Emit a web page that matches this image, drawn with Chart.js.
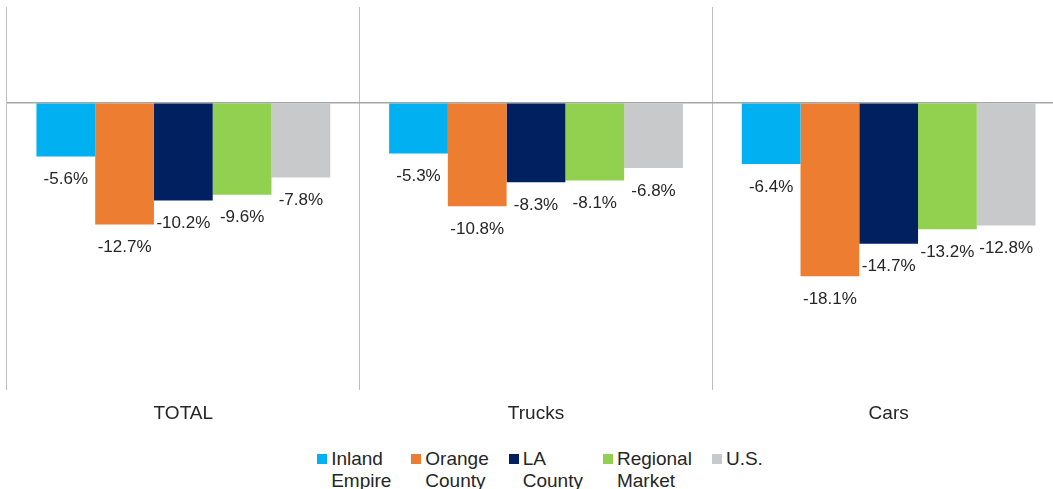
<!DOCTYPE html>
<html>
<head>
<meta charset="utf-8">
<script src="https://cdn.jsdelivr.net/npm/chart.js@4/dist/chart.umd.min.js"></script>
<style>
  html, body { margin: 0; padding: 0; background: #fff; overflow: hidden; width: 1053px; height: 489px; }
  #wrap { position: absolute; left: 0; top: 0; width: 1072px; height: 437px; }
  #legend { position: absolute; top: 448px; left: 0; width: 1080px; display: flex; justify-content: center;
    font-family: "Liberation Sans", Arial, sans-serif; font-size: 19px; color: #262626; line-height: 22px; }
  .item { display: flex; align-items: flex-start; margin: 0 10px; }
  .box { width: 10px; height: 10px; margin: 6px 4px 0 0; flex: none; }
</style>
</head>
<body>
<div id="wrap"><canvas id="chart"></canvas></div>
<div id="legend"></div>
<script>
const categories = ['TOTAL', 'Trucks', 'Cars'];
const seriesNames = [['Inland', 'Empire'], ['Orange', 'County'], ['LA', 'County'], ['Regional', 'Market'], ['U.S.']];
const colors = ['#00B0F0', '#ED7D31', '#002060', '#92D050', '#C8C9CB'];

const inlandEmpire = [-5.6, -5.3, -6.4];
const orangeCounty = [-12.7, -10.8, -18.1];
const laCounty = [-10.2, -8.3, -14.7];
const regionalMarket = [-9.6, -8.1, -13.2];
const us = [-7.8, -6.8, -12.8];
const allSeries = [inlandEmpire, orangeCounty, laCounty, regionalMarket, us];

const yMin = -30;
const yMax = 10;

const labelPlugin = {
  id: 'valueLabels',
  afterDatasetsDraw(chart) {
    const ctx = chart.ctx;
    ctx.save();
    ctx.font = '17px "Liberation Sans", Arial, sans-serif';
    ctx.fillStyle = '#262626';
    ctx.textAlign = 'center';
    ctx.textBaseline = 'middle';
    chart.data.datasets.forEach((ds, i) => {
      chart.getDatasetMeta(i).data.forEach((bar, j) => {
        ctx.fillText(ds.data[j].toFixed(1) + '%', bar.x, bar.y + 23);
      });
    });
    ctx.restore();
  }
};

new Chart(document.getElementById('chart'), {
  type: 'bar',
  data: {
    labels: categories,
    datasets: allSeries.map((d, i) => ({
      label: seriesNames[i].join(' '),
      data: d,
      backgroundColor: colors[i],
      borderWidth: 0,
      categoryPercentage: 0.833,
      barPercentage: 1.0
    }))
  },
  options: {
    responsive: true,
    maintainAspectRatio: false,
    animation: false,
    layout: { padding: { left: 7, top: 7, right: 7, bottom: 0 } },
    plugins: {
      legend: { display: false },
      tooltip: { enabled: false }
    },
    scales: {
      x: {
        grid: { offset: true, color: '#BFBFBF', lineWidth: 1, drawTicks: false },
        border: { display: false },
        ticks: {
          padding: 12,
          color: '#262626',
          font: { family: '"Liberation Sans", Arial, sans-serif', size: 19 }
        }
      },
      y: {
        min: yMin,
        max: yMax,
        grid: {
          color: c => c.tick.value === 0 ? '#A6A6A6' : 'rgba(0,0,0,0)',
          lineWidth: 1.5,
          drawTicks: false
        },
        border: { display: false },
        ticks: { display: false, stepSize: 10 }
      }
    }
  },
  plugins: [labelPlugin]
});

// legend with two-line names
const legend = document.getElementById('legend');
seriesNames.forEach((name, i) => {
  const item = document.createElement('div');
  item.className = 'item';
  const box = document.createElement('div');
  box.className = 'box';
  box.style.background = colors[i];
  const txt = document.createElement('div');
  txt.innerHTML = name.join('<br>');
  item.appendChild(box);
  item.appendChild(txt);
  legend.appendChild(item);
});
</script>
</body>
</html>
